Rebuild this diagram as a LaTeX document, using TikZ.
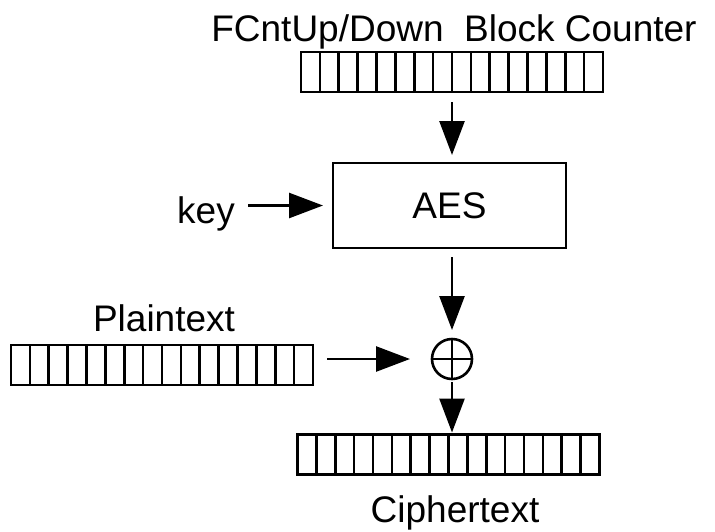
\documentclass[tikz,border=0pt]{standalone}
\usepackage{fontspec}
\setmainfont{Liberation Sans}
\usetikzlibrary{arrows.meta,calc}
\begin{document}
\begin{tikzpicture}[x=1pt,y=-1pt,
  every node/.style={font=\fontsize{37}{44}\selectfont},
  label/.style={inner sep=0pt},
  reg/.style={draw,line width=2.6pt,minimum width=302pt,minimum height=40pt,inner sep=0pt,outer sep=0pt},
  procbox/.style={draw,line width=2.4pt,minimum width=233pt,minimum height=85pt,inner sep=0pt,outer sep=0pt},
  xorop/.style={draw,circle,line width=2.6pt,minimum size=40pt,inner sep=0pt,outer sep=0pt},
  flow/.style={line width=2.6pt,-{Triangle[length=34pt,width=25pt]}}]
\useasboundingbox (0,0) rectangle (715,531);
% divides a register node into 16 cells
\newcommand{\regcells}[1]{%
  \foreach \k in {1,...,15}
    \draw[line width=2.6pt] ($(#1.north west)!\k/16!(#1.north east)$) -- ($(#1.south west)!\k/16!(#1.south east)$);}
\node[label,anchor=base] (ctrlbl) at (454,41) {FCntUp/Down\ \ Block Counter};
\node[reg] (ctr) at (452,72) {};
\node[procbox] (aes) at (449.5,205.5) {AES};
\node[label,anchor=base east] (key) at (235,223) {key};
\node[label,anchor=base] (ptlbl) at (164,331) {Plaintext};
\node[reg] (pt) at (162,365) {};
\node[xorop] (xor) at (452,359) {};
\node[reg] (ct) at (448.5,454.5) {};
\node[label,anchor=base] (ctlbl) at (455,522) {Ciphertext};
\regcells{ctr}
\regcells{pt}
\regcells{ct}
\draw[line width=2.4pt] (xor.north) -- (xor.south) (xor.west) -- (xor.east);
% data flow
\draw[flow,shorten <=10pt,shorten >=8pt] (ctr.south -| xor) -- (aes.north -| xor);
\draw[flow,shorten <=13pt,shorten >=10pt] (key.east |- aes) -- (aes.west);
\draw[flow,shorten <=9pt,shorten >=9pt] (aes.south -| xor) -- (xor.north);
\draw[flow,shorten <=14pt,shorten >=22pt] (pt.east |- xor) -- (xor.west);
\draw[flow,shorten <=3pt,shorten >=2pt] (xor.south) -- (ct.north -| xor);
\end{tikzpicture}
\end{document}
